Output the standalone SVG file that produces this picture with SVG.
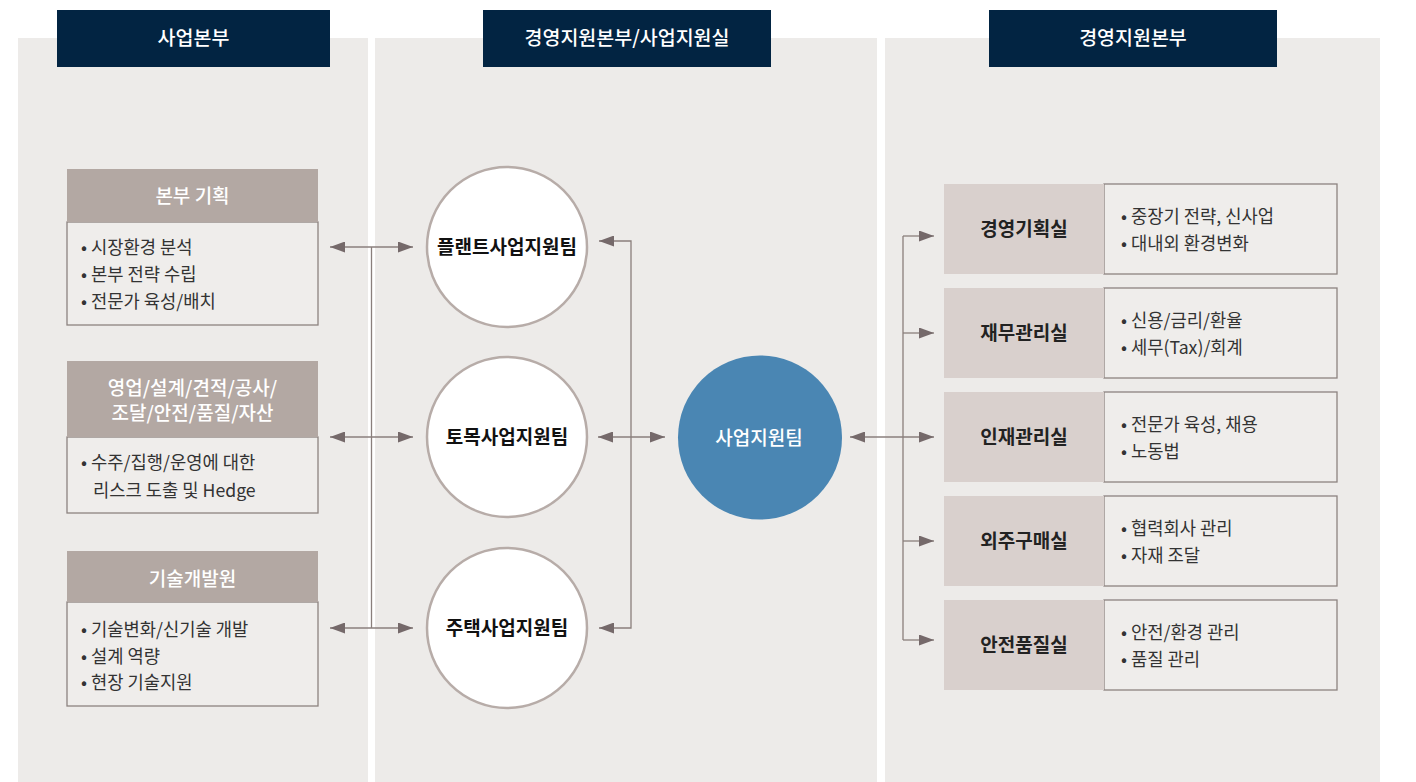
<svg xmlns="http://www.w3.org/2000/svg" width="1416" height="782" viewBox="0 0 1416 782">
<defs>
<style>
.panel{fill:#edebe9}
.hdr{fill:#022442}
.hdrt{fill:#fff;font-family:"Noto Sans CJK KR","Noto Sans",sans-serif;font-size:19.5px;font-weight:500;text-anchor:middle}
.bh{fill:#b3a8a3}
.bb{fill:#efedeb;stroke:#8c8380;stroke-width:1.3}
.bht{fill:#fff;font-family:"Noto Sans CJK KR","Noto Sans",sans-serif;font-size:19px;font-weight:500;text-anchor:middle}
.bt{fill:#333;font-family:"Noto Sans CJK KR","Noto Sans",sans-serif;font-size:17.7px}
.cir{fill:#fff;stroke:#b7aca8;stroke-width:2.5}
.ct{fill:#111;font-family:"Noto Sans CJK KR","Noto Sans",sans-serif;font-size:19px;font-weight:700;text-anchor:middle}
.wt{fill:#fff;font-family:"Noto Sans CJK KR","Noto Sans",sans-serif;font-size:19px;font-weight:500;text-anchor:middle}
.rl{fill:#d9d0cd}
.rlt{fill:#222;font-family:"Noto Sans CJK KR","Noto Sans",sans-serif;font-size:19px;font-weight:700;text-anchor:middle}
.ln{fill:none;stroke:#8a7f7c;stroke-width:1.3}
</style>
<marker id="ah" viewBox="0 0 15 11" refX="15" refY="5.5" markerWidth="15" markerHeight="11" markerUnits="userSpaceOnUse" orient="auto-start-reverse">
<path d="M0,0 L15,5.5 L0,11 Z" fill="#75696a"/>
</marker>
</defs>

<g id="panels">
<rect class="panel" x="18" y="38" width="350" height="744"/>
<rect class="panel" x="375" y="38" width="502" height="744"/>
<rect class="panel" x="885" y="38" width="495" height="744"/>
</g>

<g id="header-1">
<rect class="hdr" x="57" y="10" width="273" height="57"/>
<text class="hdrt" x="193.5" y="45">사업본부</text>
</g>
<g id="header-2">
<rect class="hdr" x="483" y="10" width="288" height="57"/>
<text class="hdrt" x="627" y="45">경영지원본부/사업지원실</text>
</g>
<g id="header-3">
<rect class="hdr" x="989" y="10" width="288" height="57"/>
<text class="hdrt" x="1133" y="45">경영지원본부</text>
</g>

<g id="connectors">
<line class="ln" x1="371.5" y1="247" x2="371.5" y2="628"/>
<line class="ln" x1="330" y1="247" x2="413" y2="247" marker-start="url(#ah)" marker-end="url(#ah)"/>
<line class="ln" x1="330" y1="437" x2="413" y2="437" marker-start="url(#ah)" marker-end="url(#ah)"/>
<line class="ln" x1="330" y1="628" x2="413" y2="628" marker-start="url(#ah)" marker-end="url(#ah)"/>
<polyline class="ln" points="599,241 631,241 631,628 599,628" marker-start="url(#ah)" marker-end="url(#ah)"/>
<line class="ln" x1="598" y1="437" x2="665" y2="437" marker-start="url(#ah)" marker-end="url(#ah)"/>
<line class="ln" x1="850" y1="437" x2="934" y2="437" marker-start="url(#ah)" marker-end="url(#ah)"/>
<line class="ln" x1="903" y1="236" x2="903" y2="640"/>
<line class="ln" x1="903" y1="236" x2="934" y2="236" marker-end="url(#ah)"/>
<line class="ln" x1="903" y1="333" x2="934" y2="333" marker-end="url(#ah)"/>
<line class="ln" x1="903" y1="541" x2="934" y2="541" marker-end="url(#ah)"/>
<line class="ln" x1="903" y1="640" x2="934" y2="640" marker-end="url(#ah)"/>
</g>

<g id="box-planning">
<rect class="bb" x="67" y="222" width="251" height="103"/>
<rect class="bh" x="67" y="169" width="251" height="53"/>
<text class="bht" x="192.5" y="202.5">본부 기획</text>
<text class="bt" x="81" y="253.5">• 시장환경 분석</text>
<text class="bt" x="81" y="280.5">• 본부 전략 수립</text>
<text class="bt" x="81" y="308">• 전문가 육성/배치</text>
</g>
<g id="box-sales">
<rect class="bb" x="67" y="437" width="251" height="76"/>
<rect class="bh" x="67" y="361" width="251" height="76"/>
<text class="bht" x="192.5" y="395">영업/설계/견적/공사/</text>
<text class="bht" x="192.5" y="420">조달/안전/품질/자산</text>
<text class="bt" x="81" y="469">• 수주/집행/운영에 대한</text>
<text class="bt" x="93" y="496.5">리스크 도출 및 Hedge</text>
</g>
<g id="box-tech">
<rect class="bb" x="67" y="602" width="251" height="104"/>
<rect class="bh" x="67" y="551" width="251" height="51"/>
<text class="bht" x="192.5" y="586">기술개발원</text>
<text class="bt" x="81" y="635.5">• 기술변화/신기술 개발</text>
<text class="bt" x="81" y="662.5">• 설계 역량</text>
<text class="bt" x="81" y="688.5">• 현장 기술지원</text>
</g>

<g id="team-plant">
<circle class="cir" cx="507" cy="247" r="80"/>
<text class="ct" x="507" y="254">플랜트사업지원팀</text>
</g>
<g id="team-civil">
<circle class="cir" cx="507" cy="437" r="80"/>
<text class="ct" x="507" y="444">토목사업지원팀</text>
</g>
<g id="team-housing">
<circle class="cir" cx="507" cy="628" r="80"/>
<text class="ct" x="507" y="635">주택사업지원팀</text>
</g>
<g id="team-support">
<circle cx="760" cy="437.5" r="82" fill="#4a86b3"/>
<text class="wt" x="759" y="444.5">사업지원팀</text>
</g>

<g id="office-planning">
<rect class="bb" x="1104" y="184" width="233" height="90"/>
<rect class="rl" x="944" y="184" width="160" height="90"/>
<text class="rlt" x="1024" y="236">경영기획실</text>
<text class="bt" x="1121" y="223">• 중장기 전략, 신사업</text>
<text class="bt" x="1121" y="250">• 대내외 환경변화</text>
</g>
<g id="office-finance">
<rect class="bb" x="1104" y="288" width="233" height="90"/>
<rect class="rl" x="944" y="288" width="160" height="90"/>
<text class="rlt" x="1024" y="340">재무관리실</text>
<text class="bt" x="1121" y="327">• 신용/금리/환율</text>
<text class="bt" x="1121" y="354">• 세무(Tax)/회계</text>
</g>
<g id="office-hr">
<rect class="bb" x="1104" y="392" width="233" height="90"/>
<rect class="rl" x="944" y="392" width="160" height="90"/>
<text class="rlt" x="1024" y="444">인재관리실</text>
<text class="bt" x="1121" y="431">• 전문가 육성, 채용</text>
<text class="bt" x="1121" y="458">• 노동법</text>
</g>
<g id="office-procurement">
<rect class="bb" x="1104" y="496" width="233" height="90"/>
<rect class="rl" x="944" y="496" width="160" height="90"/>
<text class="rlt" x="1024" y="548">외주구매실</text>
<text class="bt" x="1121" y="535">• 협력회사 관리</text>
<text class="bt" x="1121" y="562">• 자재 조달</text>
</g>
<g id="office-safety">
<rect class="bb" x="1104" y="600" width="233" height="90"/>
<rect class="rl" x="944" y="600" width="160" height="90"/>
<text class="rlt" x="1024" y="652">안전품질실</text>
<text class="bt" x="1121" y="639">• 안전/환경 관리</text>
<text class="bt" x="1121" y="666">• 품질 관리</text>
</g>
</svg>
